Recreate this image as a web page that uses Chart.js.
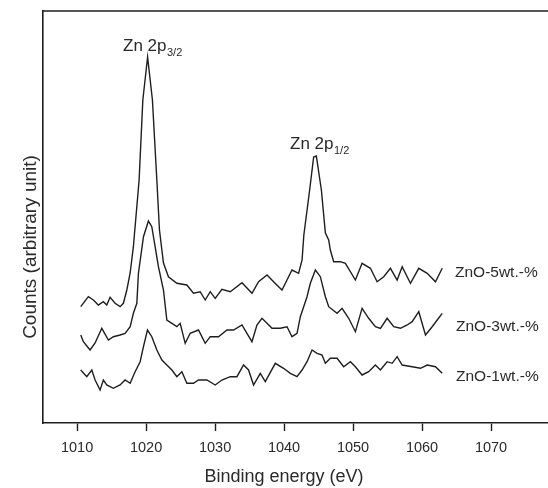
<!DOCTYPE html>
<html>
<head>
<meta charset="utf-8">
<script src="https://cdn.jsdelivr.net/npm/chart.js@4.4.1/dist/chart.umd.min.js"></script>
<style>
  html, body { margin: 0; padding: 0; background: #fff; overflow: hidden; width: 548px; height: 488px; }
  #wrap { position: absolute; left: 0; top: 0; width: 562px; height: 488px; }
</style>
</head>
<body>
<div id="wrap"><canvas id="c" width="562" height="488"></canvas></div>
<script>
// ---- Data (binding energy in eV, counts in arbitrary units) ----
const xTickValues = [1010, 1020, 1030, 1040, 1050, 1060, 1070];

const energy5 = [1010.53,1011.63,1012.36,1013.08,1013.81,1014.30,1014.78,1015.51,1016.23,1016.71,
  1017.21,1017.69,1018.16,1018.99,1019.53,1020.22,1020.92,1021.56,1021.94,1022.52,
  1023.24,1024.46,1025.91,1026.87,1027.84,1028.57,1029.30,1030.02,1030.99,1032.20,
  1033.90,1035.35,1036.31,1037.53,1038.48,1039.70,1040.43,1041.15,1042.11,1042.61,
  1042.87,1043.71,1044.29,1044.68,1045.41,1045.99,1046.47,1046.71,1047.19,1048.16,
  1048.89,1050.34,1051.31,1052.52,1053.49,1054.45,1055.42,1056.39,1057.12,1058.32,
  1059.53,1060.75,1061.95,1062.93];
const counts5 = [116.3,126.3,123,118,121.3,118,125.7,119.7,116.3,119.7,
  133,150,176.3,243,323,366,323,243,193,160,
  146.3,139.7,138,129.7,131.3,123,131.3,124.7,133.7,131.3,
  140.3,129.7,141.3,148,141.3,133,143,153,149.7,163,
  188,233,266,267,233,190,183,173,161.3,161.3,
  159.7,143,159.7,154.7,141.3,146.3,154.7,143,156.3,139.7,
  154.7,149.7,141.3,154.7];

const energy3 = [1010.53,1010.91,1011.88,1012.61,1013.58,1014.54,1015.26,1016.23,1016.96,1017.69,
  1018.16,1018.66,1018.89,1019.62,1020.34,1020.83,1021.31,1021.79,1022.52,1023.01,
  1023.74,1024.46,1024.94,1025.67,1026.39,1027.60,1028.57,1029.30,1030.50,1031.72,
  1032.68,1033.90,1034.62,1035.35,1036.07,1036.80,1037.53,1038.25,1039.46,1040.43,
  1041.15,1041.88,1042.36,1043.33,1043.81,1044.54,1045.26,1045.99,1046.47,1047.69,
  1048.41,1049.37,1050.34,1051.31,1052.27,1053.24,1053.97,1054.94,1055.90,1056.87,
  1057.85,1058.57,1059.53,1060.50,1061.47,1062.20,1062.93];
const counts3 = [88,81.3,73,80,94.7,83,86.3,88,89.7,96.3,
  109.7,119.7,149.7,186.3,202,196.3,176.3,156.3,133,103,
  99.7,96.3,99.7,79.7,89.7,93,79.7,86.3,86.3,93,
  93,98,89.7,81.3,98,104.7,99.7,94.7,94.7,96.3,
  86.3,89.7,106.3,126.3,139.7,153,146.3,126.3,116.3,109.7,
  114.7,104.7,91.3,114.7,104.7,96.3,94.7,104.7,96.3,94.7,
  98,101.3,111.3,88,96.3,103,109.7];

const energy1 = [1010.53,1011.40,1012.13,1012.61,1013.33,1013.81,1014.30,1015.26,1016.23,1016.96,1017.69,
  1018.41,1019.14,1019.62,1020.20,1020.83,1021.56,1022.29,1023.01,1023.74,
  1024.46,1025.19,1025.91,1026.87,1027.60,1028.82,1030.02,1030.99,1032.20,1033.17,
  1034.13,1034.85,1035.58,1036.55,1037.28,1038.73,1039.93,1040.91,1041.88,1042.61,
  1043.33,1044.06,1044.78,1045.51,1045.99,1046.71,1047.69,1048.64,1049.62,1050.34,
  1051.31,1052.27,1053.24,1053.97,1054.94,1055.67,1056.39,1057.12,1058.57,1059.78,
  1060.75,1061.95,1062.93];
const counts1 = [53,46.3,53,43,33,43,38,34.7,38,43,39.7,
  51.3,61.3,76.3,93,86.3,73,63,58,53,
  46.3,51.3,39.7,39.7,43,43,38,43,46.3,46.3,
  58,53,38,49.7,41.3,59.7,54.7,49.7,46.3,53,
  61.3,73,69.7,68,59.7,64.7,64.7,56.3,61.3,56.3,
  48,51.3,58,53,61.3,59.7,66.3,58,56.3,54.7,
  58,56.3,49.7];

const seriesNames = ['ZnO-5wt.-%', 'ZnO-3wt.-%', 'ZnO-1wt.-%'];
const xTitle = 'Binding energy (eV)';
const yTitle = 'Counts (arbitrary unit)';

function pts(xs, ys) { return xs.map((x, i) => ({ x: x, y: ys[i] })); }

const FONT = '"Liberation Sans", Arial, Helvetica, sans-serif';
const TXT = '#2a2a2a';
const LINE = '#1e1e1e';

const decor = {
  id: 'decor',
  afterDraw(chart) {
    const ctx = chart.ctx;
    const a = chart.chartArea;
    ctx.save();
    // top frame line (right side of the frame is outside the visible page)
    ctx.strokeStyle = LINE;
    ctx.lineWidth = 1.6;
    ctx.beginPath();
    ctx.moveTo(a.left, a.top);
    ctx.lineTo(chart.width, a.top);
    ctx.stroke();

    ctx.fillStyle = TXT;
    ctx.textBaseline = 'alphabetic';
    ctx.textAlign = 'left';
    // peak labels with subscripts
    function sub(main, s, x, y) {
      ctx.font = '17px ' + FONT;
      ctx.fillText(main, x, y);
      const w = ctx.measureText(main).width;
      ctx.font = '11px ' + FONT;
      ctx.fillText(s, x + w + 0.5, y + 5);
    }
    sub('Zn 2p', '3/2', 123, 51);
    sub('Zn 2p', '1/2', 290, 149);

    // series labels
    ctx.font = '15.5px ' + FONT;
    ctx.textBaseline = 'middle';
    ctx.fillText(seriesNames[0], 455, 273);
    ctx.fillText(seriesNames[1], 456, 327);
    ctx.fillText(seriesNames[2], 456, 377);

    // axis titles
    ctx.textAlign = 'center';
    ctx.font = '18px ' + FONT;
    ctx.fillText(xTitle, 284, 477);
    ctx.save();
    ctx.translate(31, 247);
    ctx.rotate(-Math.PI / 2);
    ctx.font = '19px ' + FONT;
    ctx.fillText(yTitle, 0, 0);
    ctx.restore();
    ctx.restore();
  }
};

const ds = (data) => ({
  data: data, showLine: true, borderColor: LINE, borderWidth: 1.4,
  pointRadius: 0, tension: 0, fill: false
});

new Chart(document.getElementById('c'), {
  type: 'scatter',
  data: {
    datasets: [
      Object.assign(ds(pts(energy5, counts5)), { label: seriesNames[0] }),
      Object.assign(ds(pts(energy3, counts3)), { label: seriesNames[1] }),
      Object.assign(ds(pts(energy1, counts1)), { label: seriesNames[2] })
    ]
  },
  plugins: [decor],
  options: {
    responsive: false,
    animation: false,
    layout: { padding: { left: 0, right: 2, top: 11, bottom: 0 } },
    plugins: { legend: { display: false }, tooltip: { enabled: false } },
    scales: {
      x: {
        type: 'linear', min: 1005, max: 1080,
        afterBuildTicks: (s) => { s.ticks = xTickValues.map(v => ({ value: v })); },
        afterFit: (s) => { s.height = 65; },
        ticks: { color: TXT, font: { family: FONT, size: 14.5 }, padding: 8, maxRotation: 0, autoSkip: false,
                 callback: (v) => String(v) },
        grid: { drawOnChartArea: false, drawTicks: true, tickLength: 8, tickColor: LINE, tickWidth: 1.4 },
        border: { display: true, color: LINE, width: 1.6 },
        title: { display: false }
      },
      y: {
        type: 'linear', min: 0, max: 412,
        afterFit: (s) => { s.width = 42.6; },
        ticks: { display: false },
        grid: { display: false, drawTicks: false },
        border: { display: true, color: LINE, width: 1.6 },
        title: { display: false }
      }
    }
  }
});
</script>
</body>
</html>
